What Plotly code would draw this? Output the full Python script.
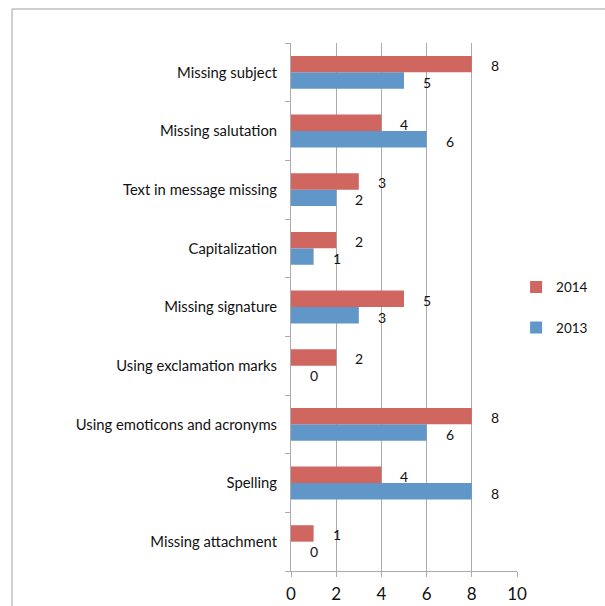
import plotly.graph_objects as go

# Email etiquette errors counted per category, 2013 vs 2014
categories = [
    "Missing attachment",
    "Spelling",
    "Using emoticons and acronyms",
    "Using exclamation marks",
    "Missing signature",
    "Capitalization",
    "Text in message missing",
    "Missing salutation",
    "Missing subject",
]
errors_2013 = [0, 8, 6, 0, 3, 1, 2, 6, 5]
errors_2014 = [1, 4, 8, 2, 5, 2, 3, 4, 8]
x_ticks = [0, 2, 4, 6, 8, 10]

RED = "#CF6660"
BLUE = "#6196C9"
GRID = "#ABABAB"
FONT = "Lato"

fig = go.Figure()
fig.add_trace(go.Bar(
    y=categories, x=errors_2013, name="2013", orientation="h",
    marker=dict(color=BLUE, line=dict(width=0)),
    legendgroup="a", legendrank=2,
))
fig.add_trace(go.Bar(
    y=categories, x=errors_2014, name="2014", orientation="h",
    marker=dict(color=RED, line=dict(width=0)),
    legendgroup="b", legendrank=1,
))

# value labels to the right of each bar
for cat, v13, v14 in zip(categories, errors_2013, errors_2014):
    for val, shift in ((v14, 7), (v13, -10)):
        fig.add_annotation(
            x=val, y=cat, text=str(val), showarrow=False,
            xanchor="center", yanchor="middle",
            xshift=23, yshift=shift,
            font=dict(family=FONT, size=14, color="#111111"),
        )

# outer frame lines
fig.add_shape(type="line", xref="paper", yref="paper",
              x0=-279 / 226, x1=314 / 226, y0=562 / 528, y1=562 / 528,
              line=dict(color="#A0A0A0", width=1))
fig.add_shape(type="line", xref="paper", yref="paper",
              x0=-279 / 226, x1=-279 / 226, y0=562 / 528, y1=-40 / 528,
              line=dict(color="#A0A0A0", width=1))

fig.update_layout(
    width=605, height=606,
    margin=dict(l=291, r=88, t=43, b=35, autoexpand=False),
    paper_bgcolor="white", plot_bgcolor="white",
    barmode="group", bargap=0.44, bargroupgap=0,
    font=dict(family=FONT, color="#111111"),
    showlegend=True,
    legend=dict(
        x=0.996, y=0.567, xanchor="left", yanchor="top",
        traceorder="grouped", tracegroupgap=20,
        font=dict(family=FONT, size=13.5, color="#111111"),
        itemwidth=30, bgcolor="rgba(0,0,0,0)",
    ),
    xaxis=dict(
        range=[0, 10], tickvals=x_ticks, ticktext=[str(t) for t in x_ticks],
        showgrid=True, gridcolor=GRID, gridwidth=1,
        showline=True, linecolor=GRID, linewidth=1,
        ticks="outside", ticklen=5, tickcolor=GRID,
        tickfont=dict(family=FONT, size=17, color="#111111"),
        ticklabelstandoff=3,
        zeroline=False, fixedrange=True, automargin=False,
    ),
    yaxis=dict(
        type="category", categoryorder="array", categoryarray=categories,
        showgrid=False, showline=True, linecolor=GRID, linewidth=1,
        ticks="outside", ticklen=5, tickcolor=GRID, tickson="boundaries",
        tickfont=dict(family=FONT, size=14.8, color="#111111"),
        ticklabelstandoff=10, fixedrange=True, automargin=False,
    ),
)

fig.write_html("out.html")
